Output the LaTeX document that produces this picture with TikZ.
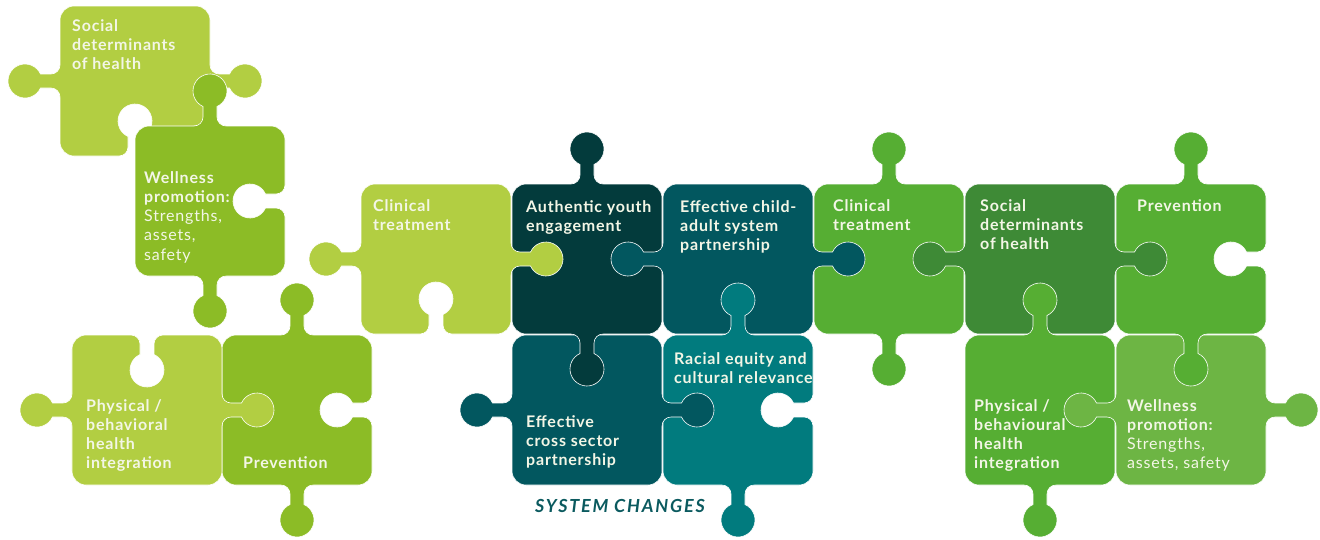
\documentclass[tikz,border=0pt]{standalone}
\usepackage{fontspec}
\setmainfont{Lato}[LetterSpace=5]
\definecolor{lg}{HTML}{B2CE42}
\definecolor{yg}{HTML}{8CBC26}
\definecolor{dkteal}{HTML}{033B3C}
\definecolor{tealb}{HTML}{02575F}
\definecolor{ltteal}{HTML}{017B7E}
\definecolor{gr}{HTML}{56AE33}
\definecolor{dkgr}{HTML}{3E8A36}
\definecolor{ltgr}{HTML}{6DB544}
\definecolor{txt}{HTML}{F3F6E6}
\definecolor{sys}{HTML}{0B5A5F}
\def\Nn{7}\def\Ff{9}\def\Rr{17}\def\Dd{35}\def\Cc{14}
\pgfmathsetmacro\Nf{\Nn+\Ff}
\pgfmathsetmacro\Ss{sqrt(\Rr*\Rr-\Nn*\Nn)}
\pgfmathsetmacro\Hh{\Dd-\Ss-\Ff}
\pgfmathsetmacro\Bb{acos(\Nn/\Rr)}
\pgfmathsetmacro\Ll{150-2*\Cc}
\pgfmathsetmacro\Hl{\Ll/2-\Nf}
% straight side
\newcommand\sdN[1]{-- ++(#1:\Ll)}
% side with a hole
\newcommand\sdI[1]{-- ++(#1:\Hl) arc[start angle=#1+90, end angle=#1, radius=\Ff] -- ++(#1-90:\Hh) arc[start angle=#1+180-\Bb, end angle=#1+360+\Bb, radius=\Rr] -- ++(#1+90:\Hh) arc[start angle=#1+180, end angle=#1+90, radius=\Ff] -- ++(#1:\Hl)}
\newcommand\crn[1]{arc[start angle=#1+90, end angle=#1, radius=\Cc]}
% body: colour, X, Y (top-left, pixels), top, right, bottom, left
\newcommand\body[7]{\path[fill=#1, pieceline] (#2+\Cc,-#3) #4{0} \crn{0} #5{-90} \crn{-90} #6{180} \crn{180} #7{90} \crn{90} -- cycle;}
% knob outline
\newcommand\tabp[1]{arc[start angle=#1-180, end angle=#1-90, radius=\Ff] -- ++(#1:\Hh) arc[start angle=#1+\Bb-270, end angle=#1-450-\Bb, radius=\Rr] -- ++(#1+180:\Hh) arc[start angle=#1+90, end angle=#1+180, radius=\Ff]}
% knob: colour, edge midpoint X, Y, outward angle
\newcommand\knob[4]{%
  \fill[#1, shift={(#2,-#3)}] (#4+90:\Nf) \tabp{#4} -- ++(#4+180:2) -- ++(#4+90:2*\Nf) -- cycle;
  \draw[pieceline, shift={(#2,-#3)}] (#4+90:\Nf) \tabp{#4};}
\tikzset{
  pieceline/.style={draw=white, line width=0.6},
  lbl/.style={text=txt, font=\bfseries\fontsize{16}{19.3}\selectfont, align=left, inner sep=0, anchor=base west},
}
\begin{document}
\begin{tikzpicture}[x=1pt, y=1pt]
\useasboundingbox (0,0) rectangle (1320,-539);
% bodies
\body{lg}{60}{6}{\sdN}{\sdN}{\sdI}{\sdN}
\body{yg}{135}{126}{\sdN}{\sdI}{\sdN}{\sdN}
\body{yg}{222}{335}{\sdN}{\sdI}{\sdN}{\sdN}
\body{lg}{72}{335}{\sdI}{\sdN}{\sdN}{\sdN}
\body{lg}{361}{184}{\sdN}{\sdN}{\sdI}{\sdN}
\body{dkteal}{512}{184}{\sdN}{\sdN}{\sdN}{\sdN}
\body{tealb}{663}{184}{\sdN}{\sdN}{\sdN}{\sdN}
\body{tealb}{512}{335}{\sdN}{\sdN}{\sdN}{\sdN}
\body{ltteal}{663}{335}{\sdN}{\sdI}{\sdN}{\sdN}
\body{gr}{814}{184}{\sdN}{\sdN}{\sdN}{\sdN}
\body{dkgr}{965}{184}{\sdN}{\sdN}{\sdN}{\sdN}
\body{gr}{1116}{184}{\sdN}{\sdI}{\sdN}{\sdN}
\body{gr}{965}{335}{\sdN}{\sdN}{\sdN}{\sdN}
\body{ltgr}{1116}{335}{\sdN}{\sdN}{\sdN}{\sdN}
% knobs
\knob{lg}{60}{81}{180}
\knob{lg}{210}{81}{0}
\knob{yg}{210}{126}{90}
\knob{yg}{210}{276}{-90}
\knob{lg}{72}{410}{180}
\knob{yg}{297}{335}{90}
\knob{yg}{297}{485}{-90}
\knob{lg}{222}{410}{0}
\knob{lg}{361}{259}{180}
\knob{lg}{511}{259}{0}
\knob{dkteal}{587}{184}{90}
\knob{dkteal}{587}{334}{-90}
\knob{tealb}{663}{259}{180}
\knob{tealb}{813}{259}{0}
\knob{tealb}{512}{410}{180}
\knob{tealb}{662}{410}{0}
\knob{ltteal}{738}{335}{90}
\knob{ltteal}{738}{485}{-90}
\knob{gr}{889}{184}{90}
\knob{gr}{889}{334}{-90}
\knob{dkgr}{965}{259}{180}
\knob{dkgr}{1115}{259}{0}
\knob{gr}{1191}{184}{90}
\knob{gr}{1191}{334}{-90}
\knob{gr}{1040}{335}{90}
\knob{gr}{1040}{485}{-90}
\knob{ltgr}{1116}{410}{180}
\knob{ltgr}{1266}{410}{0}
% labels (anchor = baseline of the last line)
\node[lbl] (socTL) at (72,-69.6) {Social\\determinants\\of health};
\node[lbl] (welTL) at (144,-260.2) {Wellness\\promotion:\\{\mdseries Strengths,}\\{\mdseries assets,}\\{\mdseries safety}};
\node[lbl] (phyBL) at (86,-468.9) {Physical /\\behavioral\\health\\integration};
\node[lbl] (preBL) at (243,-468) {Prevention};
\node[lbl] (cliL) at (373,-230.3) {Clinical\\treatment};
\node[lbl] (auth) at (526,-231.3) {Authentic youth\\engagement};
\node[lbl] (child) at (680,-250.6) {Effective child-\\adult system\\partnership};
\node[lbl] (cross) at (526,-465.6) {Effective\\cross sector\\partnership};
\node[lbl] (racial) at (674,-383.3) {Racial equity and\\cultural relevance};
\node[lbl] (cliR) at (833,-230.3) {Clinical\\treatment};
\node[lbl] (socR) at (980,-249.6) {Social\\determinants\\of health};
\node[lbl] (preR) at (1137,-211) {Prevention};
\node[lbl] (phyR) at (974,-468.9) {Physical /\\behavioural\\health\\integration};
\node[lbl] (welR) at (1127,-468.9) {Wellness\\promotion:\\{\mdseries Strengths,}\\{\mdseries assets, safety}};
\node[text=sys, font=\bfseries\itshape\fontsize{18}{20}\selectfont, inner sep=0, anchor=base west] (sysch) at (535,-512) {\addfontfeatures{LetterSpace=10}SYSTEM CHANGES};
\end{tikzpicture}
\end{document}
